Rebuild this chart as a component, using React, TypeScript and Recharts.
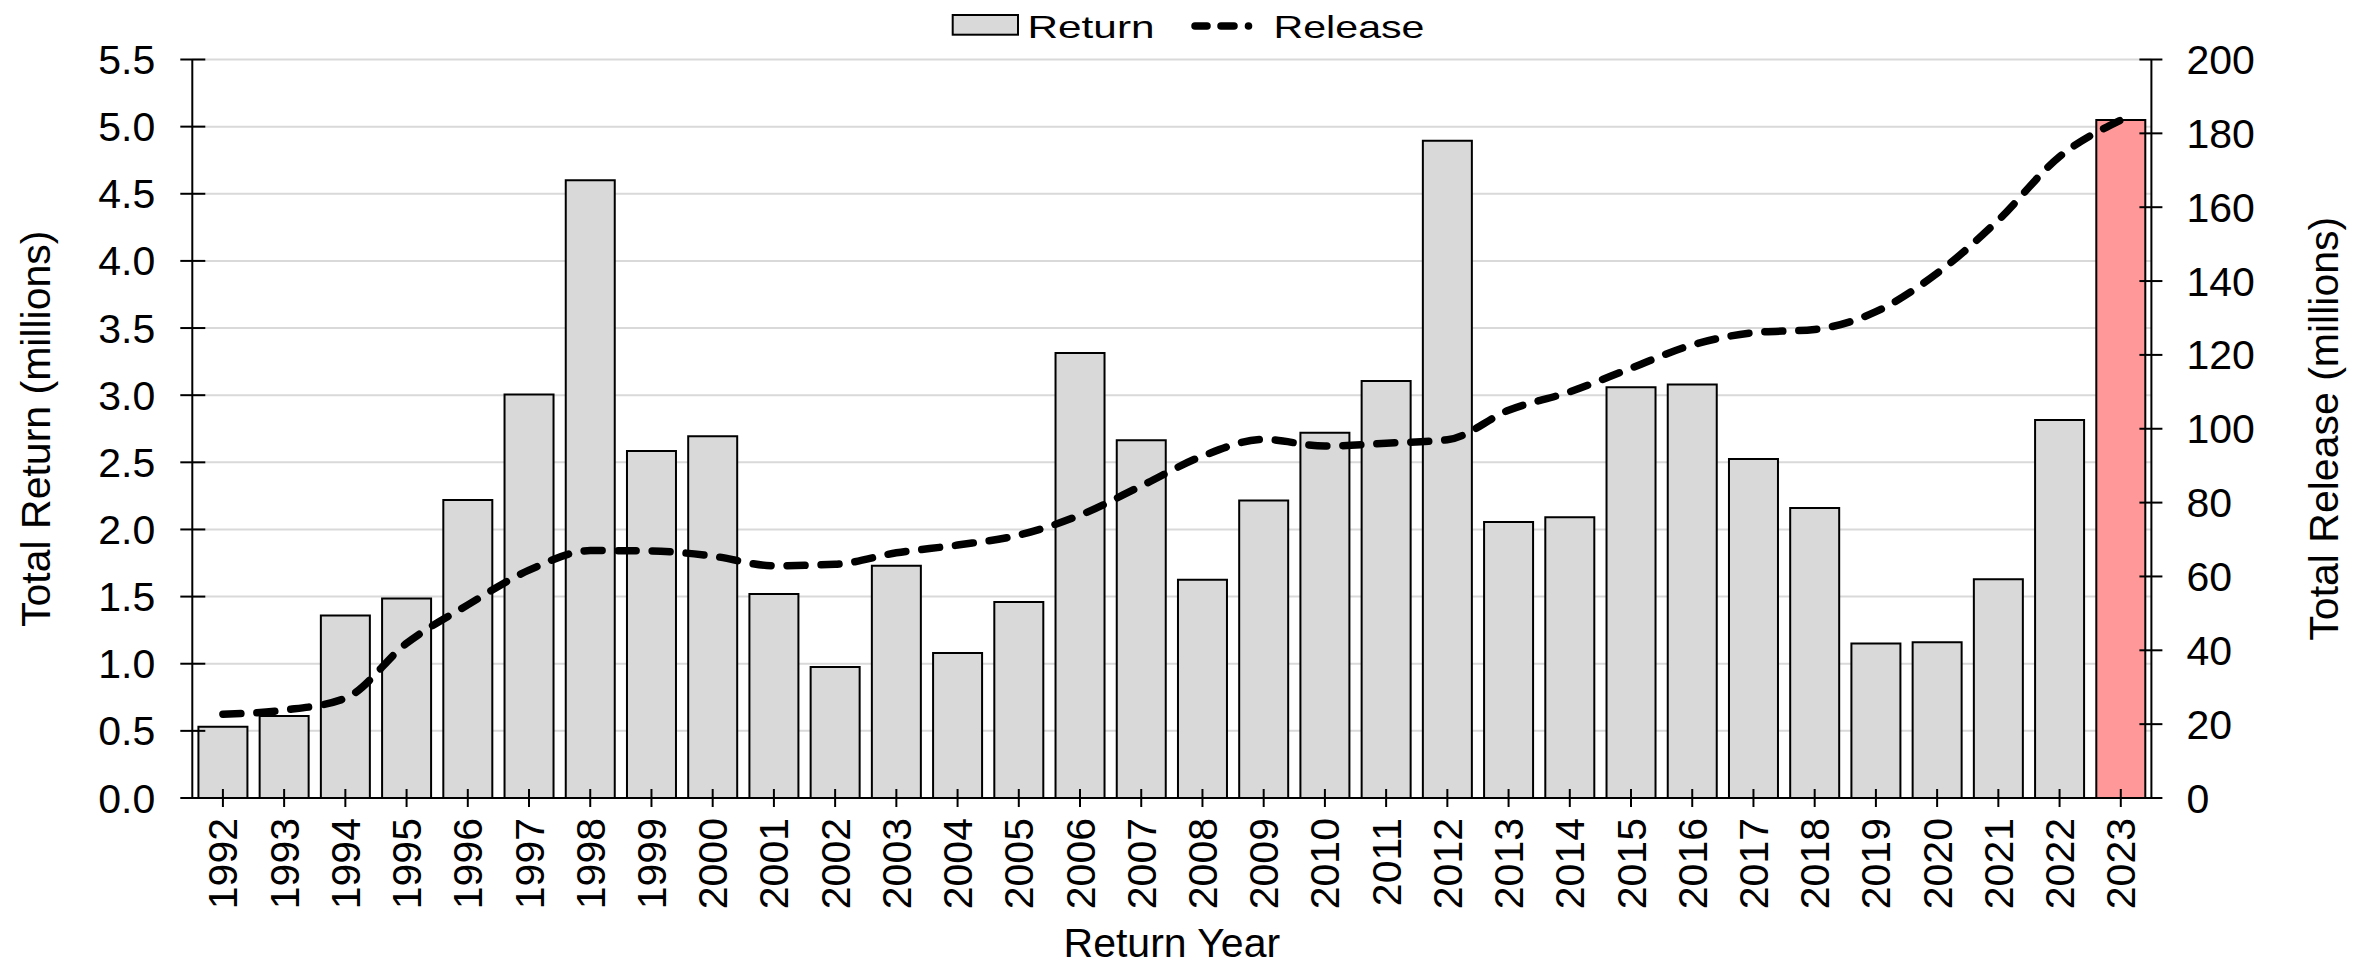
import React from 'react';
import { ComposedChart, Bar, Line, XAxis, YAxis, CartesianGrid, Cell } from 'recharts';

const years = [
  '1992', '1993', '1994', '1995', '1996', '1997', '1998', '1999', '2000', '2001',
  '2002', '2003', '2004', '2005', '2006', '2007', '2008', '2009', '2010', '2011',
  '2012', '2013', '2014', '2015', '2016', '2017', '2018', '2019', '2020', '2021',
  '2022', '2023',
];

const returnValues = [
  0.53, 0.61, 1.36, 1.485, 2.22, 3.005, 4.6, 2.585, 2.695, 1.52,
  0.975, 1.73, 1.08, 1.46, 3.315, 2.665, 1.625, 2.215, 2.72, 3.105,
  4.895, 2.055, 2.09, 3.06, 3.08, 2.525, 2.16, 1.15, 1.16, 1.63,
  2.815, 5.05,
];

const releaseValues = [
  22.7, 23.8, 27.0, 41.9, 52.3, 61.7, 67.0, 66.9, 65.5, 62.9,
  63.3, 66.4, 68.5, 71.2, 76.6, 84.5, 92.6, 97.1, 95.3, 96.1,
  97.0, 105.0, 110.0, 116.4, 122.7, 126.0, 126.9, 131.7, 142.1, 156.5,
  173.7, 183.6,
];

const leftTicks = [0, 0.5, 1, 1.5, 2, 2.5, 3, 3.5, 4, 4.5, 5, 5.5];
const rightTicks = [0, 20, 40, 60, 80, 100, 120, 140, 160, 180, 200];

const highlightYear = '2023';

const data = years.map((year, i) => ({
  year,
  Return: returnValues[i],
  Release: releaseValues[i],
}));

const FONT = '"Liberation Sans", Arial, Helvetica, sans-serif';
const FS = 41;
const BAR_FILL = '#d9d9d9';
const HIGHLIGHT_FILL = '#ff9999';

const L_SIZE = 12;
const L_MARGIN = 25;
const R_SIZE = 11;
const R_MARGIN = 24;
const X_SIZE = 9;
const X_MARGIN = 11;

const LeftTick = (props: any) => {
  const { x, y, payload } = props;
  const ax = x + L_MARGIN + L_SIZE;
  return (
    <g>
      <line x1={ax - L_SIZE} x2={ax + 13} y1={y} y2={y} stroke="#000" strokeWidth={2} />
      <text x={x} y={y} dy="0.355em" textAnchor="end" fontSize={FS} fontFamily={FONT} fill="#000">
        {Number(payload.value).toFixed(1)}
      </text>
    </g>
  );
};

const RightTick = (props: any) => {
  const { x, y, payload } = props;
  const ax = x - R_MARGIN - R_SIZE;
  return (
    <g>
      <line x1={ax - 12} x2={ax + R_SIZE} y1={y} y2={y} stroke="#000" strokeWidth={2} />
      <text x={x} y={y} dy="0.355em" textAnchor="start" fontSize={FS} fontFamily={FONT} fill="#000">
        {payload.value}
      </text>
    </g>
  );
};

const BottomTick = (props: any) => {
  const { x, y, payload } = props;
  const ay = y - X_MARGIN - X_SIZE;
  return (
    <g>
      <line x1={x} x2={x} y1={ay - 9} y2={ay + X_SIZE} stroke="#000" strokeWidth={2} />
      <text
        x={x}
        y={y}
        dy="0.355em"
        textAnchor="end"
        transform={`rotate(-90, ${x}, ${y})`}
        fontSize={FS}
        fontFamily={FONT}
        fill="#000"
      >
        {payload.value}
      </text>
    </g>
  );
};

const LegendOverlay = () => (
  <svg
    width={2374}
    height={60}
    style={{ position: 'absolute', left: 0, top: 0, pointerEvents: 'none' }}
  >
    <rect x={952.7} y={15} width={65.3} height={19.7} fill={BAR_FILL} stroke="#000" strokeWidth={2} />
    <text
      x={1027.5}
      y={37.5}
      fontSize={32}
      fontFamily={FONT}
      textLength={127}
      lengthAdjust="spacingAndGlyphs"
      fill="#000"
    >
      Return
    </text>
    <line x1={1195} x2={1207} y1={26} y2={26} stroke="#000" strokeWidth={7.5} strokeLinecap="round" />
    <line x1={1221} x2={1234} y1={26} y2={26} stroke="#000" strokeWidth={7.5} strokeLinecap="round" />
    <circle cx={1248.5} cy={26} r={3.8} fill="#000" />
    <text
      x={1273.5}
      y={37.5}
      fontSize={32}
      fontFamily={FONT}
      textLength={151}
      lengthAdjust="spacingAndGlyphs"
      fill="#000"
    >
      Release
    </text>
  </svg>
);

export default function App() {
  return (
    <div
      style={{
        position: 'absolute',
        left: 0,
        top: 0,
        width: 2374,
        height: 967,
        background: '#fff',
        fontFamily: FONT,
      }}
    >
      <ComposedChart
        width={2374}
        height={967}
        data={data}
        margin={{ top: 59.5, right: 0, bottom: 0, left: 0 }}
        barCategoryGap="10%"
      >
        <CartesianGrid yAxisId="left" horizontal vertical={false} stroke="#d9d9d9" strokeWidth={2} />
        <XAxis
          dataKey="year"
          interval={0}
          height={169}
          tickSize={X_SIZE}
          tickMargin={X_MARGIN}
          tickLine={false}
          axisLine={{ stroke: '#000', strokeWidth: 2 }}
          tick={<BottomTick />}
          label={{
            value: 'Return Year',
            position: 'insideBottom',
            offset: 10,
            style: { fontSize: FS, fontFamily: FONT, fill: '#000' },
          }}
        />
        <YAxis
          yAxisId="left"
          orientation="left"
          width={192.3}
          domain={[0, 5.5]}
          ticks={leftTicks}
          interval={0}
          tickSize={L_SIZE}
          tickMargin={L_MARGIN}
          tickLine={false}
          axisLine={{ stroke: '#000', strokeWidth: 2 }}
          tick={<LeftTick />}
          label={{
            value: 'Total Return (millions)',
            position: 'insideLeft',
            angle: -90,
            offset: 35,
            style: { fontSize: FS, fontFamily: FONT, fill: '#000', textAnchor: 'middle' },
          }}
        />
        <YAxis
          yAxisId="right"
          orientation="right"
          width={222.6}
          domain={[0, 200]}
          ticks={rightTicks}
          interval={0}
          tickSize={R_SIZE}
          tickMargin={R_MARGIN}
          tickLine={false}
          axisLine={{ stroke: '#000', strokeWidth: 2 }}
          tick={<RightTick />}
          label={{
            value: 'Total Release (millions)',
            position: 'insideRight',
            angle: -90,
            offset: 51,
            style: { fontSize: FS, fontFamily: FONT, fill: '#000', textAnchor: 'middle' },
          }}
        />
        <Bar
          yAxisId="left"
          dataKey="Return"
          fill={BAR_FILL}
          stroke="#000"
          strokeWidth={2}
          isAnimationActive={false}
        >
          {data.map((d) => (
            <Cell key={d.year} fill={d.year === highlightYear ? HIGHLIGHT_FILL : BAR_FILL} />
          ))}
        </Bar>
        <Line
          yAxisId="right"
          type="monotone"
          dataKey="Release"
          stroke="#000"
          strokeWidth={7.5}
          strokeDasharray="18 16"
          strokeLinecap="round"
          dot={false}
          activeDot={false}
          isAnimationActive={false}
        />
      </ComposedChart>
      <LegendOverlay />
    </div>
  );
}
